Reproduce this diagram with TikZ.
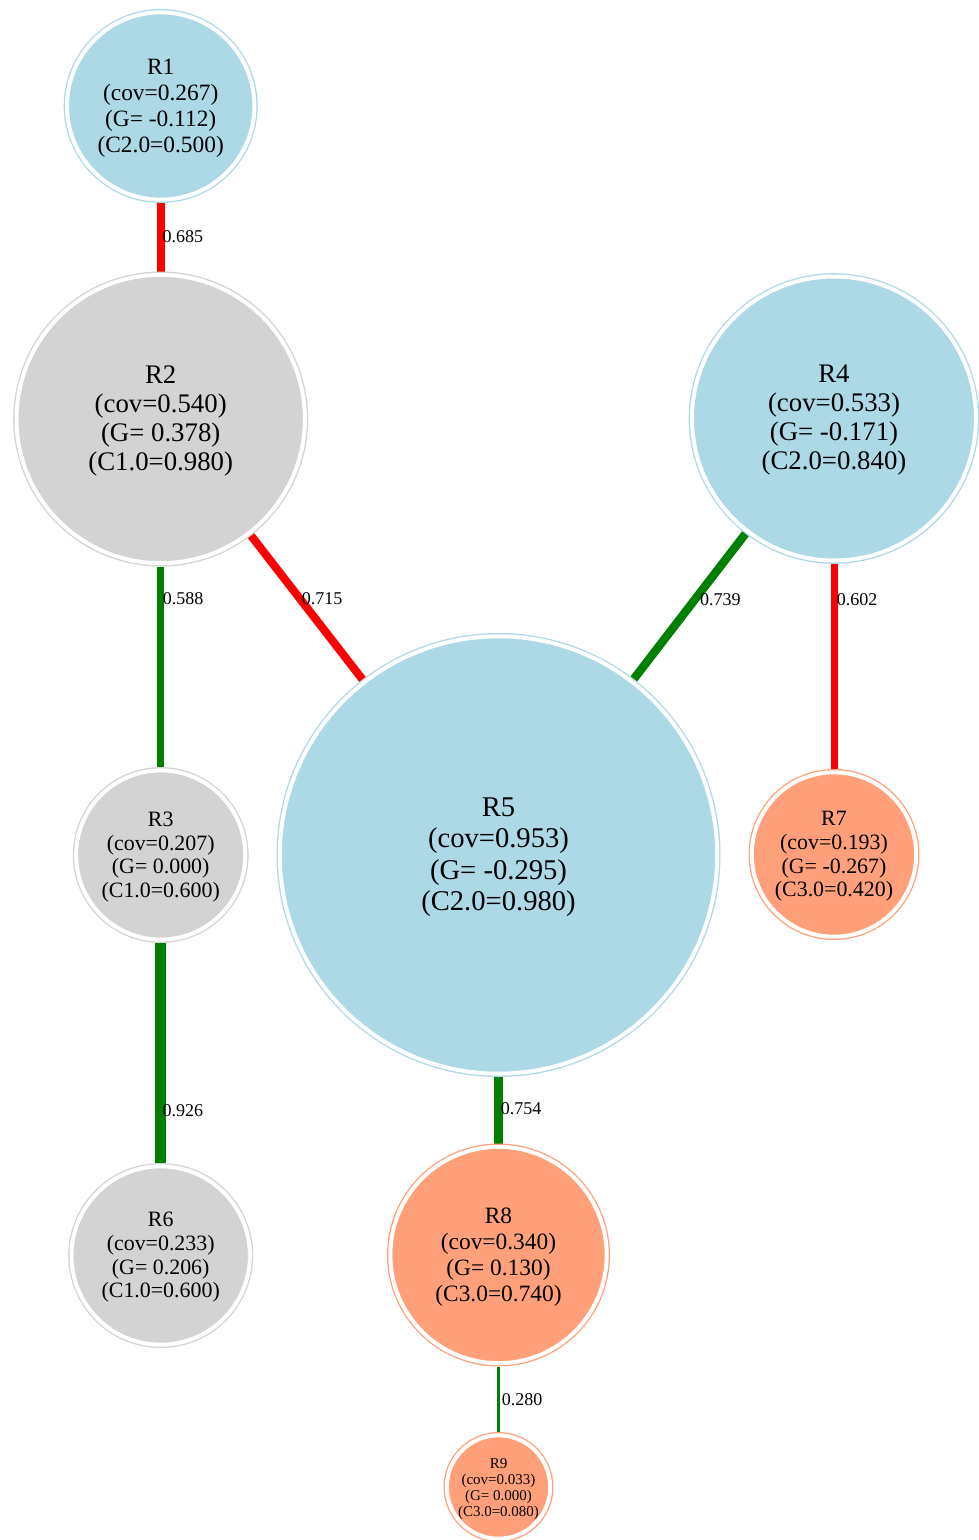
\documentclass[tikz,border=0pt]{standalone}
\usepackage{fontspec}
\setmainfont{Liberation Serif}
\usetikzlibrary{backgrounds}
\definecolor{lblue}{HTML}{ADD8E6}
\definecolor{lgray}{HTML}{D3D3D3}
\definecolor{lsalmon}{HTML}{FFA07A}
\definecolor{egreen}{HTML}{008000}
\definecolor{ered}{HTML}{FF0000}
\tikzset{
  rnode/.style={circle, inner sep=0pt, draw=#1, fill=#1, line width=1.3pt,
    double=white, double distance=4pt, outer sep=3.3pt},
  rtext/.style={align=center, inner sep=0pt, text=black, yshift=-2pt},
  elabel/.style={anchor=west, inner sep=0pt, text=black, font=\fontsize{18}{20}\selectfont},
  redge/.style={draw=ered, line width=#1},
  gedge/.style={draw=egreen, line width=#1},
}
\begin{document}
\begin{tikzpicture}[x=1pt, y=-1pt]
\begin{scope}[on background layer]
  \fill[white] (0,0) rectangle (979,1540);
\end{scope}
\useasboundingbox (0,0) rectangle (979,1540);

\node[rnode=lblue, minimum size=187.4pt,
  label={[rtext, font=\fontsize{23.4}{26}\selectfont]center:R1\\(cov=0.267)\\(G= -0.112)\\(C2.0=0.500)}] (R1) at (160.7,106) {};
\node[rnode=lgray, minimum size=288.4pt,
  label={[rtext, font=\fontsize{26.8}{29}\selectfont]center:R2\\(cov=0.540)\\(G= 0.378)\\(C1.0=0.980)}] (R2) at (160.7,419) {};
\node[rnode=lblue, minimum size=284pt,
  label={[rtext, font=\fontsize{26.8}{29}\selectfont]center:R4\\(cov=0.533)\\(G= -0.171)\\(C2.0=0.840)}] (R4) at (834,418.5) {};
\node[rnode=lblue, minimum size=437.4pt,
  label={[rtext, font=\fontsize{28.6}{31.5}\selectfont]center:R5\\(cov=0.953)\\(G= -0.295)\\(C2.0=0.980)}] (R5) at (498.5,855) {};
\node[rnode=lgray, minimum size=169.2pt,
  label={[rtext, font=\fontsize{21.9}{23.7}\selectfont]center:R3\\(cov=0.207)\\(G= 0.000)\\(C1.0=0.600)}] (R3) at (160.7,855) {};
\node[rnode=lsalmon, minimum size=164.4pt,
  label={[rtext, font=\fontsize{21.9}{23.7}\selectfont]center:R7\\(cov=0.193)\\(G= -0.267)\\(C3.0=0.420)}] (R7) at (834,854.5) {};
\node[rnode=lgray, minimum size=178.4pt,
  label={[rtext, font=\fontsize{21.9}{23.7}\selectfont]center:R6\\(cov=0.233)\\(G= 0.206)\\(C1.0=0.600)}] (R6) at (160.7,1255.5) {};
\node[rnode=lsalmon, minimum size=216.4pt,
  label={[rtext, font=\fontsize{23.4}{26}\selectfont]center:R8\\(cov=0.340)\\(G= 0.130)\\(C3.0=0.740)}] (R8) at (498.5,1255) {};
\node[rnode=lsalmon, minimum size=103.4pt,
  label={[rtext, font=\fontsize{15}{16}\selectfont]center:R9\\(cov=0.033)\\(G= 0.000)\\(C3.0=0.080)}] (R9) at (498.5,1487) {};

\begin{scope}[on background layer]
  \draw[redge=7.8pt] (R1) -- (R2);
  \draw[gedge=6.7pt] (R2) -- (R3);
  \draw[redge=8.1pt] (R2) -- (R5);
  \draw[gedge=8.4pt] (R4) -- (R5);
  \draw[redge=7pt] (R4) -- (R7);
  \draw[gedge=10.5pt] (R3) -- (R6);
  \draw[gedge=8.6pt] (R5) -- (R8);
  \draw[gedge=3.2pt] (R8) -- (R9);
\end{scope}

\node[elabel] (l12) at (162.3,237) {0.685};
\node[elabel] (l23) at (162.7,599) {0.588};
\node[elabel] (l25) at (301.7,599) {0.715};
\node[elabel] (l45) at (700,599.5) {0.739};
\node[elabel] (l47) at (836.7,599.5) {0.602};
\node[elabel] (l36) at (162.3,1110.5) {0.926};
\node[elabel] (l58) at (500.7,1109) {0.754};
\node[elabel] (l89) at (501.7,1400) {0.280};
\end{tikzpicture}
\end{document}
